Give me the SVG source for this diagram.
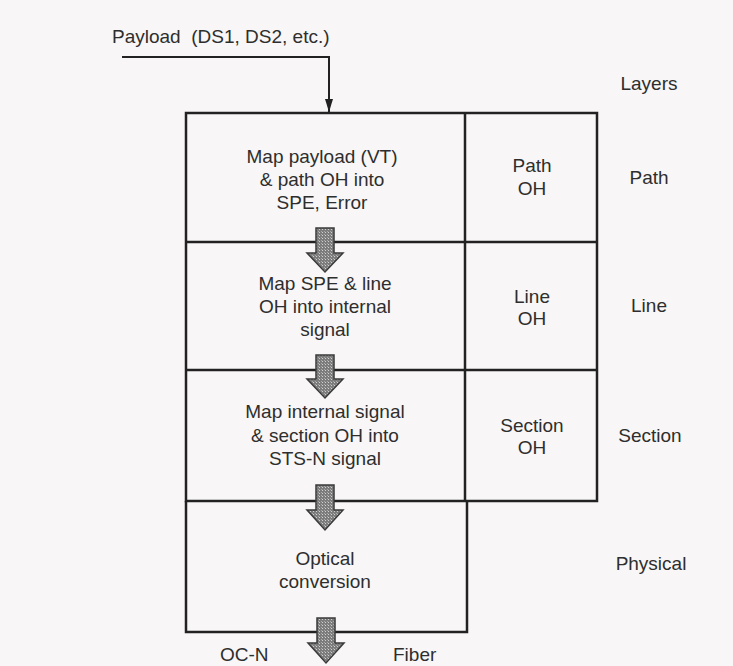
<svg xmlns="http://www.w3.org/2000/svg" width="733" height="666" viewBox="0 0 733 666">
  <style>
    .t { font-family: "Liberation Sans", Arial, sans-serif; font-size: 19px; fill: #2e2e2e; }
    .m { text-anchor: middle; }
    .ln { stroke: #222; stroke-width: 2.5; fill: none; }
    .blk { fill: url(#stip); stroke: #3a3a3a; stroke-width: 1.5; stroke-linejoin: miter; }
  </style>
  <defs>
    <pattern id="stip" width="3" height="3" patternUnits="userSpaceOnUse">
      <rect width="3" height="3" fill="#7c7c7c"/>
      <rect x="1" y="1" width="1" height="1" fill="#cfcfcf"/>
      <rect x="0" y="0" width="1" height="1" fill="#a8a8a8"/>
    </pattern>
    <marker id="ah" markerWidth="14" markerHeight="10" refX="13" refY="5" orient="auto" markerUnits="userSpaceOnUse" viewBox="0 0 14 10">
      <path d="M0,1 L13,5 L0,9 Z" fill="#222"/>
    </marker>
  </defs>

  <rect width="733" height="666" fill="#f8f6f6"/>

  <text class="t" x="112" y="43" xml:space="preserve">Payload  (DS1, DS2, etc.)</text>

  <g id="grid">
    <rect class="ln" x="186" y="113" width="411" height="388"/>
    <line class="ln" x1="465" y1="113" x2="465" y2="501"/>
    <line class="ln" x1="186" y1="242" x2="597" y2="242"/>
    <line class="ln" x1="186" y1="370" x2="597" y2="370"/>
    <polyline class="ln" points="186,501 186,632 467,632 467,501"/>
  </g>

  <g id="map-payload">
    <text class="t m" x="322" y="163">Map payload (VT)</text>
    <text class="t m" x="322" y="186">&amp; path OH into</text>
    <text class="t m" x="322" y="209">SPE, Error</text>
  </g>
  <g id="path-oh">
    <text class="t m" x="532" y="172">Path</text>
    <text class="t m" x="532" y="195">OH</text>
  </g>
  <g id="map-spe">
    <text class="t m" x="325" y="290">Map SPE &amp; line</text>
    <text class="t m" x="325" y="313">OH into internal</text>
    <text class="t m" x="325" y="336">signal</text>
  </g>
  <g id="line-oh">
    <text class="t m" x="532" y="303">Line</text>
    <text class="t m" x="532" y="325">OH</text>
  </g>
  <g id="map-internal">
    <text class="t m" x="325" y="418">Map internal signal</text>
    <text class="t m" x="325" y="442">&amp; section OH into</text>
    <text class="t m" x="325" y="465">STS-N signal</text>
  </g>
  <g id="section-oh">
    <text class="t m" x="532" y="432">Section</text>
    <text class="t m" x="532" y="454">OH</text>
  </g>
  <g id="optical">
    <text class="t m" x="325" y="565">Optical</text>
    <text class="t m" x="325" y="588">conversion</text>
  </g>
  <g id="outputs">
    <text class="t" x="220" y="661">OC-N</text>
    <text class="t" x="393" y="661">Fiber</text>
  </g>
  <g id="layers">
    <text class="t m" x="649" y="90">Layers</text>
    <text class="t m" x="649" y="184">Path</text>
    <text class="t m" x="649" y="312">Line</text>
    <text class="t m" x="650" y="442">Section</text>
    <text class="t m" x="651" y="570">Physical</text>
  </g>

  <g id="connectors">
    <polyline class="ln" points="122,57 329,57 329,112" marker-end="url(#ah)" style="stroke-width:2"/>
    <path class="blk" d="M316,228 H334 V253 H343 L325,272 L307,253 H316 Z"/>
    <path class="blk" d="M316,355 H334 V379 H343 L325,398 L307,379 H316 Z"/>
    <path class="blk" d="M316,485 H334 V510 H343 L325,530 L307,510 H316 Z"/>
    <path class="blk" d="M317,618 H335 V643 H344 L326,663 L308,643 H317 Z"/>
  </g>
</svg>
